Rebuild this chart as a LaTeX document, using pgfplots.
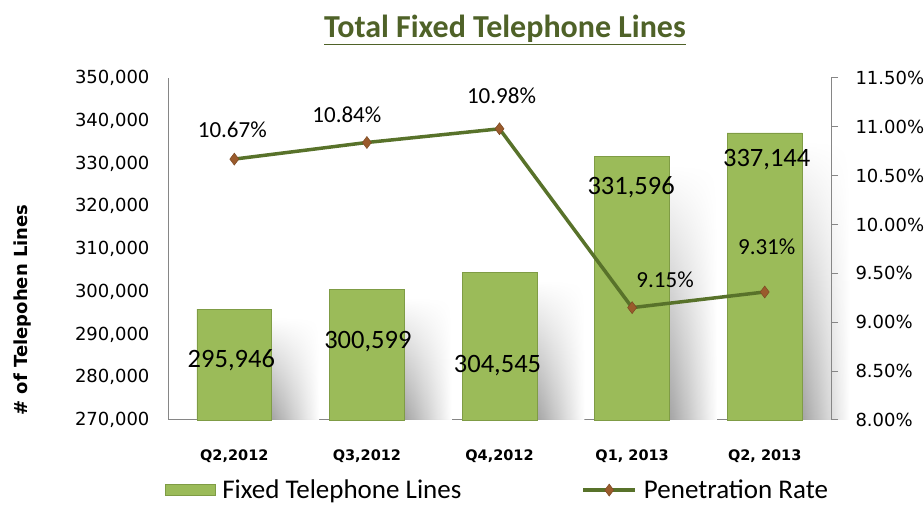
\documentclass[border=0pt]{standalone}
\usepackage{pgfplots}
\pgfplotsset{compat=1.18}
\usepackage{pgfplotstable}
\usepackage{fontspec}
\setmainfont{Carlito}
\newfontfamily\dejavu{DejaVu Sans}
\usetikzlibrary{fadings}
\definecolor{barGreen}{HTML}{9BBB59}
\definecolor{barEdge}{HTML}{7F9C45}
\definecolor{lineGreen}{HTML}{58722A}
\definecolor{markBrown}{HTML}{9A5B2C}
\definecolor{titleGreen}{HTML}{4F6228}
\definecolor{axisGray}{HTML}{868686}
\tikzfading[name=shadowfade, top color=transparent!100, middle color=transparent!15, bottom color=transparent!0]
\pgfplotsset{rate legend/.style={legend image code/.code={\draw[##1,mark repeat=2,mark phase=2]
    plot coordinates {(0pt,0pt) (26pt,0pt) (52pt,0pt)};}}}

% lines per quarter, label offsets (pt) from bar top
\pgfplotstableread{
x lines dx dy
0 295946 -3 -51
1 300599 1 -52
2 304545 -2 -93
3 331596 -1 -31
4 337144 2 -27
}\linestable

% penetration rate (%), label offsets (pt) from marker
\pgfplotstableread{
x rate dx dy
0 10.67 -2 29
1 10.84 -20 28
2 10.98 2 33
3 9.15 33 28
4 9.31 2 45
}\ratetable

\begin{document}
\begin{tikzpicture}[x=1pt,y=1pt]
\useasboundingbox (0,0) rectangle (924,508);

\begin{axis}[at={(168pt,88pt)},anchor=south west,scale only axis,
  width=663pt,height=342pt,
  xmin=-0.5,xmax=4.5,ymin=270000,ymax=350000,
  axis x line*=bottom,axis y line*=left,
  axis line style={draw=axisGray,line width=1pt},
  xtick={0,1,2,3,4},
  xticklabels={{Q2,2012},{Q3,2012},{Q4,2012},{Q1, 2013},{Q2, 2013}},
  xtick style={draw=none},ytick style={draw=none},
  xticklabel style={font=\dejavu\bfseries\fontsize{14.5}{16}\selectfont,yshift=-26pt},
  ytick={270000,280000,...,350000},scaled y ticks=false,
  yticklabel style={font=\dejavu\fontsize{18}{20}\selectfont,xshift=-15pt,
    /pgf/number format/fixed,/pgf/number format/precision=0,
    /pgf/number format/1000 sep={,},/pgf/number format/assume math mode=true},
  clip=false]
% soft shadow to the right of each bar, one path per bar
\pgfplotsinvokeforeach{0,...,4}{
\addplot[ybar,bar width=0.36,bar shift=0.46,draw=none,
  left color=black!36,right color=white,path fading=shadowfade,forget plot,
  restrict x to domain=#1:#1]
  table[x=x,y expr=\thisrow{lines}-2000] {\linestable};
}
\addplot[ybar,bar width=0.565,fill=barGreen,draw=barEdge,line width=0.6pt,
  nodes near coords={\pgfmathprintnumber[fixed,precision=0,1000 sep={,},assume math mode=true]{\pgfplotspointmeta}},
  visualization depends on={\thisrow{dx}\as\lblx},
  visualization depends on={\thisrow{dy}\as\lbly},
  every node near coord/.append style={anchor=center,xshift=\lblx pt,yshift=\lbly pt,
    font=\fontsize{26.5}{28}\selectfont,text=black}]
  table[x=x,y=lines] {\linestable};
\end{axis}

\begin{axis}[at={(168pt,88pt)},anchor=south west,scale only axis,
  width=663pt,height=342pt,
  xmin=-0.5,xmax=4.5,ymin=8,ymax=11.5,
  axis x line=none,axis y line*=right,
  axis line style={draw=axisGray,line width=1pt},
  ytick={8,8.5,9,9.5,10,10.5,11,11.5},
  tick align=outside,major tick length=7pt,
  ytick style={draw=axisGray,line width=1pt},
  yticklabel={\pgfmathprintnumber[fixed,fixed zerofill,precision=2,assume math mode=true]{\tick}\%},
  yticklabel style={font=\dejavu\fontsize{18}{20}\selectfont,xshift=14pt},
  legend columns=2,legend cell align=left,
  legend style={at={(-0.005,-0.205)},anchor=west,draw=none,fill=none,
    font=\fontsize{27}{30}\selectfont,inner sep=0pt,
    nodes={inner sep=1pt},
    /tikz/every odd column/.append style={column sep=6pt},
    /tikz/every even column/.append style={column sep=119pt}},
  clip=false]
\addlegendimage{legend image code/.code={\fill[barGreen,draw=barEdge] (0pt,-5.5pt) rectangle (50pt,5.5pt);}}
\addlegendentry{Fixed Telephone Lines}
\addplot[lineGreen,line width=3.5pt,mark=diamond*,mark size=6pt,
  mark options={fill=markBrown,draw=markBrown!80!black,line width=0.5pt},
  point meta=explicit,
  nodes near coords={\pgfmathprintnumber[fixed,fixed zerofill,precision=2,assume math mode=true]{\pgfplotspointmeta}\%},
  visualization depends on={\thisrow{dx}\as\lblx},
  visualization depends on={\thisrow{dy}\as\lbly},
  every node near coord/.append style={anchor=center,xshift=\lblx pt,yshift=\lbly pt,
    font=\fontsize{23}{25}\selectfont,text=black},
  rate legend]
  table[x=x,y=rate,meta=rate] {\ratetable};
\addlegendentry{Penetration Rate}
\end{axis}

\node[rotate=90,font=\dejavu\bfseries\fontsize{18}{20}\selectfont] at (23,198) {\# of Telepohen Lines};
\node[font=\bfseries\fontsize{32}{36}\selectfont,text=titleGreen] at (505,478)
  {\underline{Total Fixed Telephone Lines}};
\end{tikzpicture}
\end{document}
